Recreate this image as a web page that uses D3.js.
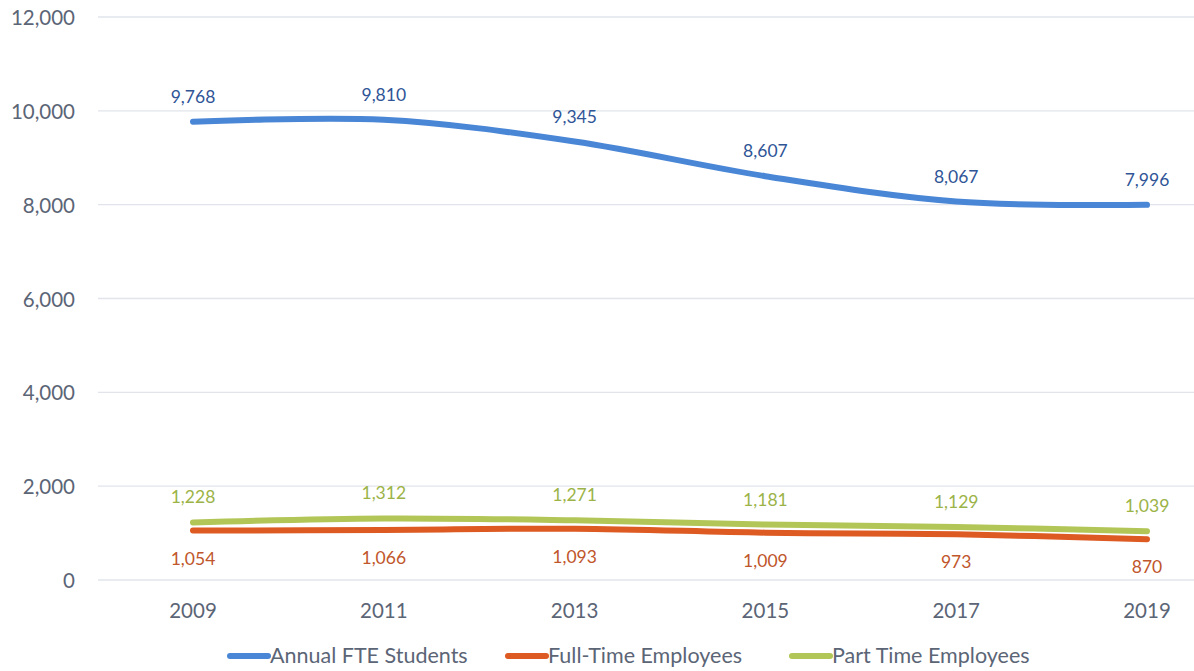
<!DOCTYPE html>
<html>
<head>
<meta charset="utf-8">
<script src="https://cdn.jsdelivr.net/npm/d3@7"></script>
<style>
  body { margin: 0; background: #fff; }
  text { font-family: Lato, "Open Sans", sans-serif; }
</style>
</head>
<body>
<div id="chart"></div>
<script>
// chart data
var years = ["2009", "2011", "2013", "2015", "2017", "2019"];
var fteStudents = [9768, 9810, 9345, 8607, 8067, 7996];
var fullTime = [1054, 1066, 1093, 1009, 973, 870];
var partTime = [1228, 1312, 1271, 1181, 1129, 1039];
var yTicks = [0, 2000, 4000, 6000, 8000, 10000, 12000];

var seriesList = [
  { name: "Annual FTE Students", values: fteStudents, color: "#4a86d6", labelColor: "#2f5597", above: true },
  { name: "Full-Time Employees", values: fullTime, color: "#dd5a22", labelColor: "#c0562b", above: false },
  { name: "Part Time Employees", values: partTime, color: "#b2c657", labelColor: "#9bb347", above: true }
];

var areaWidth = 1194, areaHeight = 671;

var svg = d3.select("#chart").append("svg")
  .attr("width", areaWidth).attr("height", areaHeight);

var xScale = d3.scalePoint().domain(years).range([193, 1147]);
var yScale = d3.scaleLinear().domain([0, 12000]).range([580, 17]);

// gridlines
svg.selectAll("line.grid")
  .data(yTicks)
  .enter()
  .append("line")
  .attr("class", "grid")
  .attr("x1", 98)
  .attr("x2", areaWidth)
  .attr("y1", function (d) { return yScale(d); })
  .attr("y2", function (d) { return yScale(d); })
  .style("stroke", "#e1e4ea")
  .style("stroke-width", 1.3);

// y tick labels
svg.selectAll("text.ytick")
  .data(yTicks)
  .enter()
  .append("text")
  .attr("class", "ytick")
  .attr("x", 75)
  .attr("y", function (d) { return yScale(d) + 8; })
  .attr("text-anchor", "end")
  .style("font-size", "20.5px")
  .style("fill", "#5b6576")
  .text(function (d) { return d3.format(",")(d); });

// x tick labels
svg.selectAll("text.xtick")
  .data(years)
  .enter()
  .append("text")
  .attr("class", "xtick")
  .attr("x", function (d) { return xScale(d); })
  .attr("y", 618)
  .attr("text-anchor", "middle")
  .style("font-size", "20.5px")
  .style("fill", "#5b6576")
  .text(function (d) { return d; });

var line = d3.line()
  .x(function (d, i) { return xScale(years[i]); })
  .y(function (d) { return yScale(d); })
  .curve(d3.curveCatmullRom.alpha(0.5));

// lines drawn green, orange, blue so blue sits on top
[seriesList[2], seriesList[1], seriesList[0]].forEach(function (s) {
  svg.append("path")
    .datum(s.values)
    .attr("d", line)
    .style("fill", "none")
    .style("stroke", s.color)
    .style("stroke-width", 6)
    .style("stroke-linecap", "round");
});

// data labels
seriesList.forEach(function (s) {
  svg.selectAll(null)
    .data(s.values)
    .enter()
    .append("text")
    .attr("x", function (d, i) { return xScale(years[i]); })
    .attr("y", function (d) { return s.above ? yScale(d) - 19 : yScale(d) + 34; })
    .attr("text-anchor", "middle")
    .style("font-size", "17.5px")
    .style("fill", s.labelColor)
    .text(function (d) { return d3.format(",")(d); });
});

// legend
var legendX = [228, 506, 790];
seriesList.forEach(function (s, i) {
  var g = svg.append("g").attr("transform", "translate(" + legendX[i] + ",656)");
  g.append("line")
    .attr("x1", 2).attr("x2", 40)
    .style("stroke", s.color)
    .style("stroke-width", 6)
    .style("stroke-linecap", "round");
  g.append("text")
    .attr("x", 42)
    .attr("y", 7)
    .style("font-size", "21.5px")
    .style("fill", "#5b6576")
    .text(s.name);
});
</script>
</body>
</html>
